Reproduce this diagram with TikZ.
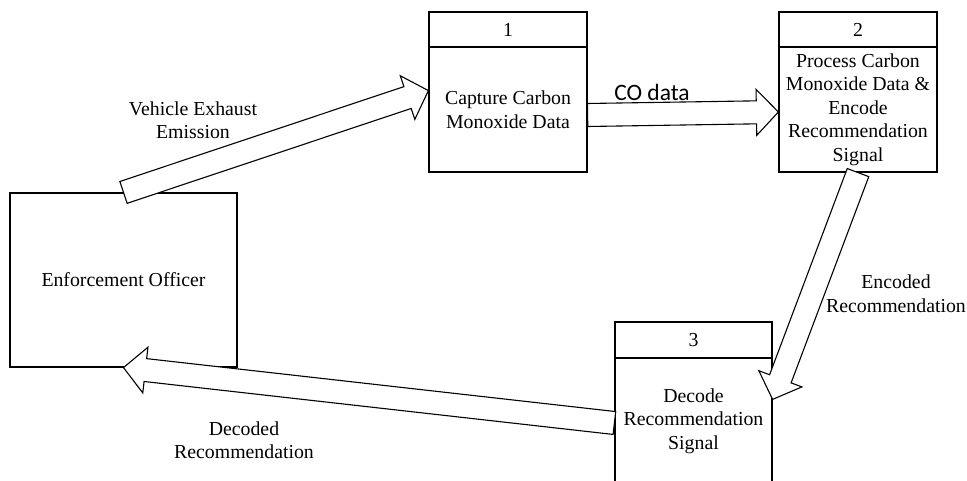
\documentclass[tikz,border=0pt]{standalone}
\usepackage{fontspec}
\setmainfont{Liberation Serif}
\newfontfamily\labelsans{Carlito}
\usetikzlibrary{calc}

\tikzset{
  box/.style={draw=black, line width=1.2pt, fill=white, inner sep=0pt, align=center,
              font=\fontsize{19.8}{23.5}\selectfont},
  caption/.style={inner sep=0pt, align=center, font=\fontsize{19.8}{23.5}\selectfont},
  flowarrow/.style={draw=black, line width=1.1pt, fill=white, line join=miter},
}

% Hollow block arrow from #1 to #2 (shaft half-width 11.5, head half-width 23, head length 22)
\newcommand\blockarrow[2]{%
  \path (#1) coordinate (ba-s) (#2) coordinate (ba-t);
  \path ($(ba-t)!22pt!(ba-s)$) coordinate (ba-h);
  \draw[flowarrow]
    ($(ba-s)!11.5pt!90:(ba-t)$) -- ($(ba-h)!11.5pt!-90:(ba-s)$) --
    ($(ba-h)!23pt!-90:(ba-s)$) -- (ba-t) -- ($(ba-h)!23pt!90:(ba-s)$) --
    ($(ba-h)!11.5pt!90:(ba-s)$) -- ($(ba-s)!11.5pt!-90:(ba-t)$) -- cycle;
}

\begin{document}
\begin{tikzpicture}[x=1pt, y=-1pt]
  \clip (0,0) rectangle (967,481);
  \fill[white] (0,0) rectangle (967,481);

  % external entity
  \node[box, minimum width=227pt, minimum height=174pt] (ent) at (123.5,280) {Enforcement Officer};

  % process 1
  \node[box, minimum width=158pt, minimum height=35pt] (p1h) at (508,29.5) {1};
  \node[box, minimum width=158pt, minimum height=125pt] (p1) at (508,109.5) {Capture Carbon\\Monoxide Data};

  % process 2
  \node[box, minimum width=158pt, minimum height=35pt] (p2h) at (858,29.5) {2};
  \node[box, minimum width=158pt, minimum height=125pt] (p2) at (858,109.5)
    {Process Carbon\\Monoxide Data \&\\Encode\\Recommendation\\Signal};

  % process 3
  \node[box, minimum width=157pt, minimum height=36pt] (p3h) at (693.5,340) {3};
  \node[box, minimum width=157pt, minimum height=126pt] (p3) at (693.5,421)
    {Decode\\Recommendation\\Signal};

  % data flows
  \blockarrow{ent.north}{$(p1h.south west)+(0,43)$}
  \blockarrow{$(p1.east)+(0,5.5)$}{$(p2.west)+(0,2.5)$}
  \blockarrow{p2.south}{$(p3.north east)+(0,42)$}
  \blockarrow{$(p3.west)+(0,2)$}{ent.south}

  % flow labels
  \node[caption] (l1) at (193,120) {Vehicle Exhaust\\Emission};
  \node[inner sep=0pt, font=\labelsans\fontsize{23.5}{28}\selectfont] (l2) at (652,92) {CO data};
  \node[caption] (l3) at (896,293.5) {Encoded\\Recommendation};
  \node[caption] (l4) at (244,440) {Decoded\\Recommendation};
\end{tikzpicture}
\end{document}
